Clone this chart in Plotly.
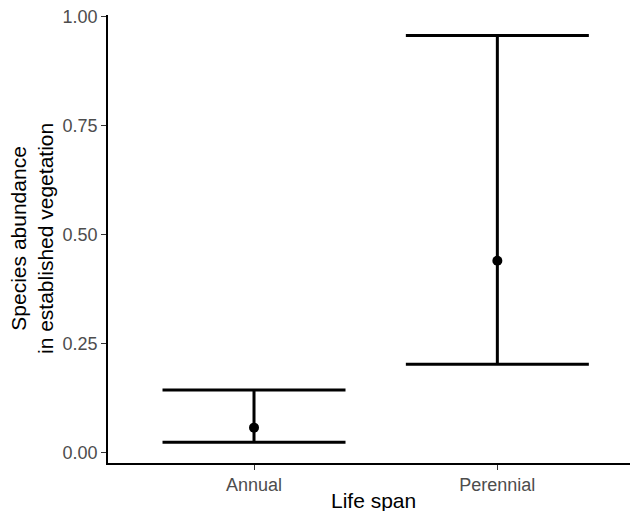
import plotly.graph_objects as go

categories = ["Annual", "Perennial"]
mean_values = [0.058, 0.44]
lower_values = [0.0245, 0.203]
upper_values = [0.144, 0.956]
y_tick_values = [0.0, 0.25, 0.5, 0.75, 1.0]
y_tick_labels = ["0.00", "0.25", "0.50", "0.75", "1.00"]
x_title = "Life span"
y_title = "Species abundance<br>in established vegetation"

err_plus = [u - m for u, m in zip(upper_values, mean_values)]
err_minus = [m - l for m, l in zip(mean_values, lower_values)]

FONT = "Arial, Liberation Sans, sans-serif"

# The page body has an 8px default margin, so the figure is sized to fill the
# 638x511 window from (8, 8).
fig = go.Figure()
fig.add_trace(go.Scatter(
    x=categories,
    y=mean_values,
    mode="markers",
    marker=dict(color="black", size=10),
    error_y=dict(
        type="data",
        symmetric=False,
        array=err_plus,
        arrayminus=err_minus,
        color="black",
        thickness=3,
        width=91.5,
    ),
    showlegend=False,
))

fig.update_layout(
    width=630,
    height=503,
    margin=dict(l=100, r=0, t=7, b=48, autoexpand=False),
    plot_bgcolor="white",
    paper_bgcolor="white",
    font=dict(family=FONT, color="black"),
)

fig.update_xaxes(
    type="category",
    categoryorder="array",
    categoryarray=categories,
    range=[-0.6, 1.578],
    showline=True,
    linecolor="black",
    linewidth=1.5,
    ticks="outside",
    ticklen=5,
    tickwidth=1.2,
    tickcolor="#333333",
    tickfont=dict(size=18, color="#4D4D4D", family=FONT),
    showgrid=False,
    zeroline=False,
    automargin=False,
    ticklabeloverflow="allow",
)

fig.update_yaxes(
    range=[-0.023, 1.003],
    tickvals=y_tick_values,
    ticktext=y_tick_labels,
    showline=True,
    linecolor="black",
    linewidth=1.5,
    ticks="outside",
    ticklen=5,
    tickwidth=1.2,
    tickcolor="#333333",
    tickfont=dict(size=18, color="#4D4D4D", family=FONT),
    showgrid=False,
    zeroline=False,
    automargin=False,
    ticklabeloverflow="allow",
)

fig.add_annotation(
    text=x_title, xref="paper", yref="paper", x=0.5, y=0,
    xanchor="center", yanchor="middle", yshift=-37, showarrow=False,
    font=dict(size=21, color="black", family=FONT),
)
fig.add_annotation(
    text=y_title, xref="paper", yref="paper", x=0, y=0.5,
    xanchor="center", yanchor="middle", xshift=-76, showarrow=False,
    textangle=-90,
    font=dict(size=21, color="black", family=FONT),
)

fig.write_html("out.html")
